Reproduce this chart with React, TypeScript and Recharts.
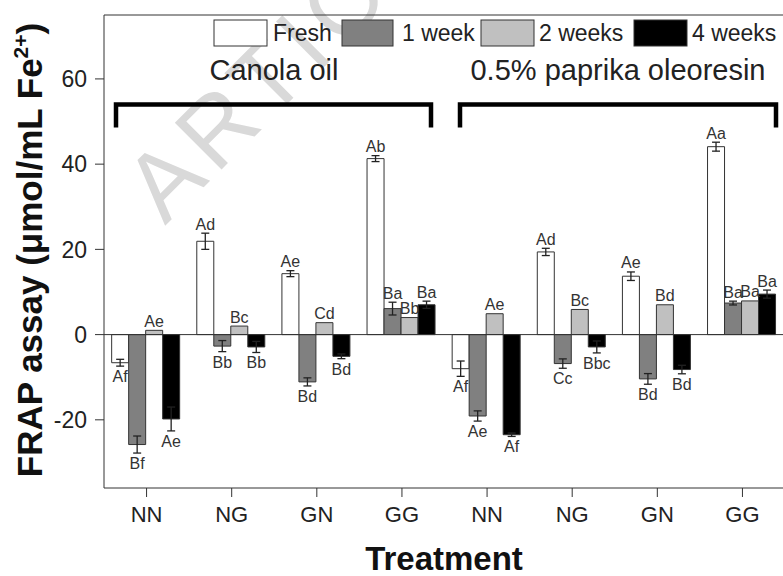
import React from 'react';
import { BarChart, Bar, XAxis, YAxis, ErrorBar, LabelList, ReferenceLine, Customized } from 'recharts';

// treatments, canola oil group then 0.5% paprika oleoresin group
const categories = ['NN', 'NG', 'GN', 'GG', 'NN', 'NG', 'GN', 'GG'];

const fresh = [-6.6, 21.9, 14.3, 41.3, -8.0, 19.4, 13.7, 44.1];
const freshErr = [0.8, 1.9, 0.7, 0.7, 1.8, 0.85, 1.0, 1.05];
const week1 = [-25.8, -2.7, -11.1, 6.1, -19.1, -6.8, -10.4, 7.4];
const week1Err = [2.0, 1.3, 0.95, 1.5, 1.2, 1.1, 1.25, 0.45];
const week2 = [1.0, 2.0, 2.8, 4.0, 4.9, 5.9, 7.0, 7.9];
const week2Err = [0, 0, 0, 0, 0, 0, 0, 0];
const week4 = [-19.8, -2.9, -5.1, 7.0, -23.5, -2.9, -8.2, 9.5];
const week4Err = [2.8, 1.3, 0.55, 0.85, 0.4, 1.4, 1.0, 0.95];

const freshLetters = ['Af', 'Ad', 'Ae', 'Ab', 'Af', 'Ad', 'Ae', 'Aa'];
const week1Letters = ['Bf', 'Bb', 'Bd', 'Ba', 'Ae', 'Cc', 'Bd', 'Ba'];
const week2Letters = ['Ae', 'Bc', 'Cd', 'Bb', 'Ae', 'Bc', 'Bd', 'Ba'];
const week4Letters = ['Ae', 'Bb', 'Bd', 'Ba', 'Af', 'Bbc', 'Bd', 'Ba'];

const yTicks = [-20, 0, 20, 40, 60];

const data = categories.map((name, i) => ({
  name,
  fresh: fresh[i],
  freshErr: freshErr[i],
  week1: week1[i],
  week1Err: week1Err[i],
  week2: week2[i],
  week2Err: week2Err[i],
  week4: week4[i],
  week4Err: week4Err[i],
}));

const FONT = '"Liberation Sans", Arial, sans-serif';

const letterLabel = (values: number[], errs: number[], letters: string[]) => (props: any) => {
  const { x, y, width, height, index } = props;
  const v = values[index];
  const h = Number(height);
  const top = Math.min(y, y + h);
  const bottom = Math.max(y, y + h);
  const pxPerUnit = Math.abs(h) / Math.abs(v || 1);
  const e = errs[index] * pxPerUnit;
  const ty = v >= 0 ? top - e - 3.5 : bottom + e + 16;
  return (
    <text x={x + width / 2} y={ty} textAnchor="middle" fontSize={16} fill="#333" fontFamily={FONT}>
      {letters[index]}
    </text>
  );
};

const Decorations = () => (
  <g fontFamily={FONT}>
    {/* legend */}
    <rect x={214} y={20} width={53} height={26} fill="#fff" stroke="#333" />
    <text x={273} y={41} fontSize={23} fill="#222">Fresh</text>
    <rect x={342} y={20} width={51} height={26} fill="#808080" stroke="#333" />
    <text x={402} y={41} fontSize={23} fill="#222">1 week</text>
    <rect x={481} y={20} width={53} height={26} fill="#c0c0c0" stroke="#333" />
    <text x={539} y={41} fontSize={23} fill="#222">2 weeks</text>
    <rect x={634} y={20} width={53} height={26} fill="#000" stroke="#333" />
    <text x={692} y={41} fontSize={23} fill="#222">4 weeks</text>

    {/* group titles and brackets */}
    <text x={274} y={80} fontSize={29} textAnchor="middle" fill="#222">Canola oil</text>
    <text x={618} y={80} fontSize={29} textAnchor="middle" fill="#222">0.5% paprika oleoresin</text>
    <path d="M116 127.5 V104.5 H431 V127.5" fill="none" stroke="#000" strokeWidth={4.5} />
    <path d="M460 127.5 V104.5 H776 V127.5" fill="none" stroke="#000" strokeWidth={4.5} />

    {/* axis titles */}
    <text
      x={42}
      y={250}
      transform="rotate(-90 42 250)"
      textAnchor="middle"
      fontSize={35}
      fontWeight="bold"
      fill="#111"
    >
      FRAP assay (μmol/mL Fe
      <tspan fontSize={21} dy={-14}>2+</tspan>
      <tspan dy={14}>)</tspan>
    </text>
    <text x={444} y={570} textAnchor="middle" fontSize={33} fontWeight="bold" fill="#111">
      Treatment
    </text>
  </g>
);

const Watermark = () => (
  <text
    x={165}
    y={226}
    transform="rotate(-45 165 226)"
    fontSize={96}
    letterSpacing={8}
    fill="#d9d9d9"
    fontFamily={FONT}
  >
    ARTICLE IN PRESS
  </text>
);

export default function App() {
  return (
    <div
      style={{
        position: 'absolute',
        left: 0,
        top: 0,
        width: 783,
        height: 576,
        overflow: 'hidden',
        background: '#fff',
        fontFamily: FONT,
      }}
    >
      <BarChart
        width={790}
        height={576}
        data={data}
        margin={{ top: 15, right: 5, bottom: 28, left: 44 }}
        barCategoryGap="9%"
        barGap={0}
      >
        <Customized component={Watermark} />
        <XAxis
          dataKey="name"
          height={60}
          tickSize={9}
          tickMargin={9}
          stroke="#333"
          tick={{ fontSize: 22, fill: '#222', fontFamily: FONT }}
          tickLine={{ stroke: '#333' }}
        />
        <YAxis
          width={60}
          domain={[-36, 75]}
          ticks={yTicks}
          tickSize={9}
          tickMargin={8}
          stroke="#333"
          tick={{ fontSize: 23, fill: '#222', fontFamily: FONT }}
          tickLine={{ stroke: '#333' }}
          allowDataOverflow
        />
        <ReferenceLine y={0} stroke="#333" strokeWidth={1} />
        <ReferenceLine y={75} stroke="#333" strokeWidth={1} />
        <Bar dataKey="fresh" fill="#ffffff" stroke="#333" strokeWidth={1} isAnimationActive={false}>
          <ErrorBar dataKey="freshErr" width={4} stroke="#222" strokeWidth={1.3} direction="y" />
          <LabelList dataKey="fresh" content={letterLabel(fresh, freshErr, freshLetters)} />
        </Bar>
        <Bar dataKey="week1" fill="#808080" stroke="#333" strokeWidth={1} isAnimationActive={false}>
          <ErrorBar dataKey="week1Err" width={4} stroke="#222" strokeWidth={1.3} direction="y" />
          <LabelList dataKey="week1" content={letterLabel(week1, week1Err, week1Letters)} />
        </Bar>
        <Bar dataKey="week2" fill="#c0c0c0" stroke="#333" strokeWidth={1} isAnimationActive={false}>
          <LabelList dataKey="week2" content={letterLabel(week2, week2Err, week2Letters)} />
        </Bar>
        <Bar dataKey="week4" fill="#000000" stroke="#333" strokeWidth={1} isAnimationActive={false}>
          <ErrorBar dataKey="week4Err" width={4} stroke="#222" strokeWidth={1.3} direction="y" />
          <LabelList dataKey="week4" content={letterLabel(week4, week4Err, week4Letters)} />
        </Bar>
        <Customized component={Decorations} />
      </BarChart>
    </div>
  );
}
